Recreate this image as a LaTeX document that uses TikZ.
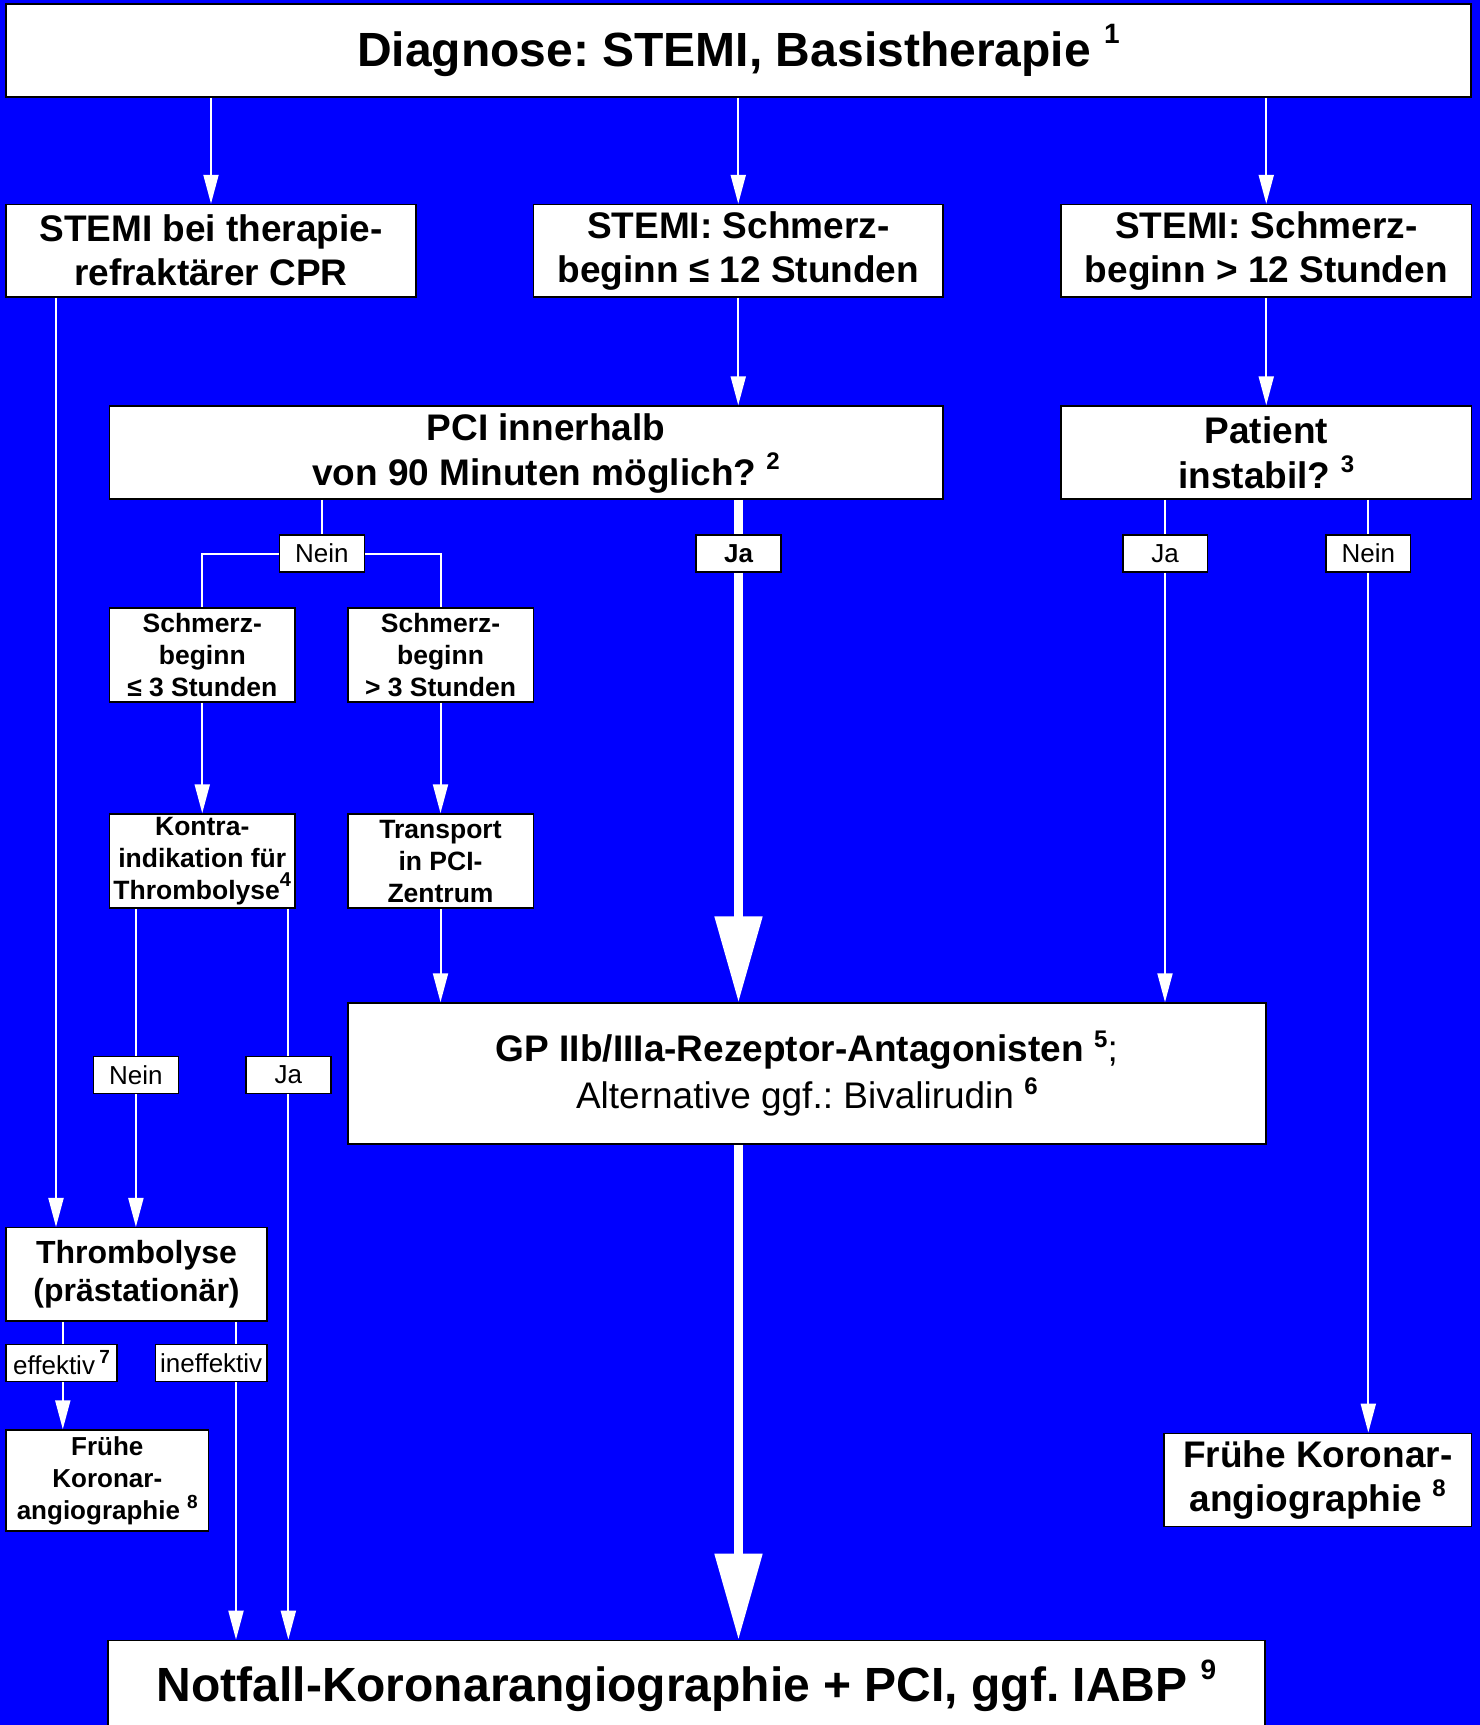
\documentclass[tikz,border=0pt]{standalone}
\usepackage{fontspec}
\setmainfont{Liberation Sans}
\usetikzlibrary{arrows.meta}
\definecolor{bgblue}{RGB}{0,0,255}
\frenchspacing
\newcommand\fn[3]{\raisebox{#2pt}{\fontsize{#1pt}{#1pt}\selectfont\bfseries #3}}
\newcommand\fA{\fontsize{48pt}{56pt}\selectfont\bfseries}
\newcommand\fB{\fontsize{37pt}{44pt}\selectfont\bfseries}
\newcommand\fBq{\fontsize{37pt}{45pt}\selectfont\bfseries}
\newcommand\fC{\fontsize{26.5pt}{32pt}\selectfont\bfseries}
\newcommand\fL{\fontsize{26pt}{30pt}\selectfont}
\begin{document}
\begin{tikzpicture}[x=1pt,y=-1pt,
  box/.style={draw=black,line width=1.5pt,fill=white,inner sep=0pt,align=center},
  lbl/.style={draw=black,line width=1.5pt,fill=white,inner sep=0pt,minimum height=37pt,font=\fL},
  conn/.style={draw=white,line width=2pt},
  arr/.style={conn,-{Triangle[length=29pt,width=15pt]}},
  bigconn/.style={draw=white,line width=8.5pt},
  bigarr/.style={bigconn,-{Triangle[length=86pt,width=46pt]}}]
\clip (0,0) rectangle (1480,1725);
\fill[bgblue] (0,0) rectangle (1480,1725);
\coordinate (x56) at (56,0);
\coordinate (x63) at (62.8,0);
\coordinate (x236) at (236,0);
% boxes
\node[box,minimum width=1465pt,minimum height=93pt,font=\fA] (top) at (738.5,50.5) {Diagnose: STEMI, Basistherapie \fn{28}{23}{1}};
\node[box,minimum width=410pt,minimum height=92.5pt,font=\fB] (cpr) at (211,250.75) {STEMI bei therapie-\\refraktärer CPR};
\node[box,minimum width=409.5pt,minimum height=92.5pt,font=\fB] (s12) at (738.25,250.75) {STEMI: Schmerz-\\beginn ≤ 12 Stunden};
\node[box,minimum width=410.5pt,minimum height=92.5pt,font=\fB] (g12) at (1266.25,250.75) {STEMI: Schmerz-\\beginn > 12 Stunden};
\node[box,minimum width=833.5pt,minimum height=93pt] (pci) at (526.25,452.5) {};
\node[font=\fBq,align=center,inner sep=0pt] (pcitext) at (546,453.5) {PCI innerhalb\\von 90 Minuten möglich? \fn{24}{16}{2}};
\node[box,minimum width=410.5pt,minimum height=93pt,font=\fBq] (instabil) at (1266.25,452.5) {Patient\\instabil? \fn{24}{16}{3}};
\node[box,minimum width=185.5pt,minimum height=94pt,font=\fC] (le3) at (202.25,655) {Schmerz-\\beginn\\≤ 3 Stunden};
\node[box,minimum width=185.5pt,minimum height=94pt,font=\fC] (gt3) at (440.5,655) {Schmerz-\\beginn\\> 3 Stunden};
\node[box,minimum width=185.5pt,minimum height=94pt,font=\fC] (kontra) at (202.25,861) {Kontra-\\indikation für\\Thrombolyse\fn{20}{13}{4}};
\node[box,minimum width=185.5pt,minimum height=94pt,font=\fC] (transport) at (440.5,861) {Transport\\in PCI-\\Zentrum};
\node[box,minimum width=918.2pt,minimum height=141pt,font=\fontsize{37pt}{47pt}\selectfont] (gp) at (806.9,1073.5) {{\bfseries GP IIb/IIIa-Rezeptor-Antagonisten} \fn{24}{14}{5};\\Alternative ggf.: Bivalirudin \fn{24}{14}{6}};
\node[box,minimum width=261pt,minimum height=93.3pt,font=\fontsize{32pt}{38.5pt}\selectfont\bfseries] (thromb) at (136.5,1274.35) {Thrombolyse\\(prästationär)};
\node[box,minimum width=202.6pt,minimum height=101pt,font=\fontsize{26pt}{32pt}\selectfont\bfseries] (fruehL) at (107.3,1480.5) {Frühe\\Koronar-\\angiographie \fn{19}{11}{8}};
\node[box,minimum width=307.5pt,minimum height=93.4pt,font=\fB] (fruehR) at (1317.75,1480) {Frühe Koronar-\\angiographie \fn{24}{15}{8}};
\node[box,minimum width=1157pt,minimum height=91.3pt,font=\fA] (notfall) at (686.5,1686) {Notfall-Koronarangiographie + PCI, ggf. IABP \fn{28}{22}{9}};
% labels
\node[lbl,minimum width=85pt] (nein1) at (321.85,553.65) {Nein};
\node[lbl,minimum width=85pt,font=\fL\bfseries] (ja1) at (738.5,553.65) {Ja};
\node[lbl,minimum width=84.5pt] (ja2) at (1165,553.65) {Ja};
\node[lbl,minimum width=84.6pt] (nein2) at (1368.3,553.65) {Nein};
\node[lbl,minimum width=85pt,minimum height=36.6pt] (nein3) at (135.9,1075) {Nein};
\node[lbl,minimum width=85pt,minimum height=36.6pt] (ja3) at (288.35,1075) {Ja};
\node[lbl,minimum width=111pt] (eff) at (61.5,1362.8) {effektiv\,\fn{19}{11}{7}};
\node[lbl,minimum width=111.7pt] (ineff) at (211.15,1362.8) {ineffektiv};
% connectors
\draw[arr] (top.south -| cpr.north) -- (cpr.north);
\draw[arr] (top.south -| s12.north) -- (s12.north);
\draw[arr] (top.south -| g12.north) -- (g12.north);
\draw[arr] (s12.south) -- (s12.south |- pci.north);
\draw[arr] (g12.south) -- (instabil.north);
\draw[arr] (cpr.south -| x56) -- (thromb.north -| x56);
\draw[conn] (pci.south -| nein1.north) -- (nein1.north);
\draw[conn] (nein1.west) -| (le3.north);
\draw[conn] (nein1.east) -| (gt3.north);
\draw[arr] (le3.south) -- (kontra.north);
\draw[arr] (gt3.south) -- (transport.north);
\draw[arr] (transport.south) -- (transport.south |- gp.north);
\draw[bigconn] (pci.south -| ja1.north) -- (ja1.north);
\draw[bigarr] (ja1.south) -- (ja1.south |- gp.north);
\draw[conn] (instabil.south -| ja2.north) -- (ja2.north);
\draw[arr] (ja2.south) -- (ja2.south |- gp.north);
\draw[conn] (instabil.south -| nein2.north) -- (nein2.north);
\draw[arr] (nein2.south) -- (nein2.south |- fruehR.north);
\draw[conn] (kontra.south -| nein3.north) -- (nein3.north);
\draw[arr] (nein3.south) -- (nein3.south |- thromb.north);
\draw[conn] (kontra.south -| ja3.north) -- (ja3.north);
\draw[arr] (ja3.south) -- (ja3.south |- notfall.north);
\draw[conn] (thromb.south -| x63) -- (eff.north -| x63);
\draw[arr] (eff.south -| x63) -- (fruehL.north -| x63);
\draw[conn] (thromb.south -| x236) -- (ineff.north -| x236);
\draw[arr] (ineff.south -| x236) -- (notfall.north -| x236);
\draw[bigarr] (gp.south -| ja1.south) -- (notfall.north -| ja1.south);
\end{tikzpicture}
\end{document}
